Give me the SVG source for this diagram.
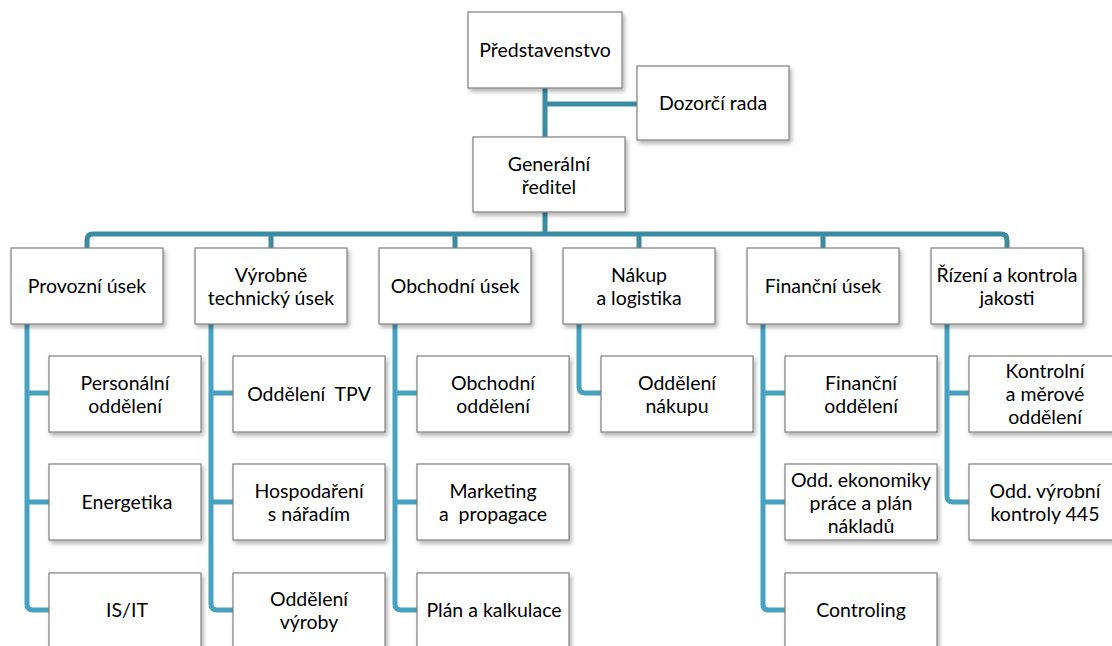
<svg xmlns="http://www.w3.org/2000/svg" width="1112" height="646" viewBox="0 0 1112 646">
<defs>
<filter id="sh" x="-10%" y="-10%" width="125%" height="135%">
<feDropShadow dx="2" dy="3" stdDeviation="2" flood-color="#000" flood-opacity="0.3"/>
</filter>
</defs>
<style>
.box{fill:#fff;stroke:#7f7f7f;stroke-width:1.2;filter:url(#sh)}
.t{font-family:Lato,"Liberation Sans",sans-serif;font-size:19.5px;fill:#000;text-anchor:middle;white-space:pre}
.c1{fill:none;stroke:#3b8ca1;stroke-width:5}
.c2{fill:none;stroke:#48a1bf;stroke-width:5}
</style>
<g id="connectors">
<path class="c1" d="M545,88 V137 M545,104 H637 M545,212 V234"/>
<path class="c1" d="M87,248 V240 Q87,234 93,234 H1001 Q1007,234 1007,240 V248 M271,234 V248 M455,234 V248 M639,234 V248 M823,234 V248"/>
<path class="c2" d="M27,324 V604 Q27,610 33,610 H49 M27,393 H49 M27,502 H49"/>
<path class="c2" d="M211,324 V604 Q211,610 217,610 H233 M211,393 H233 M211,502 H233"/>
<path class="c2" d="M395,324 V604 Q395,610 401,610 H417 M395,393 H417 M395,502 H417"/>
<path class="c2" d="M579,324 V387 Q579,393 585,393 H601"/>
<path class="c2" d="M763,324 V604 Q763,610 769,610 H785 M763,393 H785 M763,502 H785"/>
<path class="c2" d="M947,324 V496 Q947,502 953,502 H969 M947,393 H969"/>
</g>
<g id="predstavenstvo"><rect class="box" x="468" y="12" width="154" height="76"/><text class="t" x="545" y="57">Představenstvo</text></g>
<g id="dozorci"><rect class="box" x="637" y="66" width="152" height="74"/><text class="t" x="713" y="110">Dozorčí rada</text></g>
<g id="generalni"><rect class="box" x="473" y="137" width="152" height="75"/><text class="t" x="549" y="171">Generální</text><text class="t" x="549" y="194">ředitel</text></g>

<g id="provozni"><rect class="box" x="11" y="248" width="152" height="76"/><text class="t" x="87" y="293">Provozní úsek</text></g>
<g id="vyrobne"><rect class="box" x="195" y="248" width="152" height="76"/><text class="t" x="271" y="282">Výrobně</text><text class="t" x="271" y="305">technický úsek</text></g>
<g id="obchodni"><rect class="box" x="379" y="248" width="152" height="76"/><text class="t" x="455" y="293">Obchodní úsek</text></g>
<g id="nakup"><rect class="box" x="563" y="248" width="152" height="76"/><text class="t" x="639" y="282">Nákup</text><text class="t" x="639" y="305">a logistika</text></g>
<g id="financni"><rect class="box" x="747" y="248" width="152" height="76"/><text class="t" x="823" y="293">Finanční úsek</text></g>
<g id="rizeni"><rect class="box" x="931" y="248" width="152" height="76"/><text class="t" x="1007" y="282">Řízení a kontrola</text><text class="t" x="1007" y="305">jakosti</text></g>

<g id="personalni"><rect class="box" x="49" y="356" width="152" height="76"/><text class="t" x="125" y="390">Personální</text><text class="t" x="125" y="413">oddělení</text></g>
<g id="energetika"><rect class="box" x="49" y="464" width="152" height="76"/><text class="t" x="127" y="509">Energetika</text></g>
<g id="isit"><rect class="box" x="49" y="573" width="152" height="76"/><text class="t" x="127" y="617">IS/IT</text></g>

<g id="tpv"><rect class="box" x="233" y="356" width="152" height="76"/><text class="t" x="309" y="401">Oddělení  TPV</text></g>
<g id="hospodareni"><rect class="box" x="233" y="464" width="152" height="76"/><text class="t" x="309" y="498">Hospodaření</text><text class="t" x="309" y="521">s nářadím</text></g>
<g id="vyroba"><rect class="box" x="233" y="573" width="152" height="76"/><text class="t" x="309" y="606">Oddělení</text><text class="t" x="309" y="629">výroby</text></g>

<g id="obchodni-odd"><rect class="box" x="417" y="356" width="152" height="76"/><text class="t" x="493" y="390">Obchodní</text><text class="t" x="493" y="413">oddělení</text></g>
<g id="marketing"><rect class="box" x="417" y="464" width="152" height="76"/><text class="t" x="493" y="498">Marketing</text><text class="t" x="493" y="521">a  propagace</text></g>
<g id="plan"><rect class="box" x="417" y="573" width="152" height="76"/><text class="t" x="494" y="617">Plán a kalkulace</text></g>

<g id="nakupu"><rect class="box" x="601" y="356" width="152" height="76"/><text class="t" x="677" y="390">Oddělení</text><text class="t" x="677" y="413">nákupu</text></g>

<g id="financni-odd"><rect class="box" x="785" y="356" width="152" height="76"/><text class="t" x="861" y="390">Finanční</text><text class="t" x="861" y="413">oddělení</text></g>
<g id="ekonomika"><rect class="box" x="785" y="464" width="152" height="76"/><text class="t" x="861" y="487">Odd. ekonomiky</text><text class="t" x="861" y="510">práce a plán</text><text class="t" x="861" y="533">nákladů</text></g>
<g id="controling"><rect class="box" x="785" y="573" width="152" height="76"/><text class="t" x="861" y="617">Controling</text></g>

<g id="kontrolni"><rect class="box" x="969" y="356" width="152" height="76"/><text class="t" x="1045" y="378">Kontrolní</text><text class="t" x="1045" y="401">a měrové</text><text class="t" x="1045" y="424">oddělení</text></g>
<g id="vyrobni-kontrola"><rect class="box" x="969" y="464" width="152" height="76"/><text class="t" x="1045" y="498">Odd. výrobní</text><text class="t" x="1045" y="521">kontroly 445</text></g>
</svg>
